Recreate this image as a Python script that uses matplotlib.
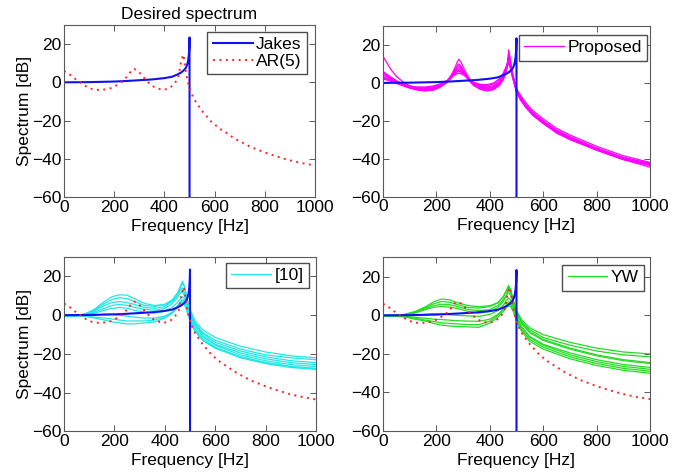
import matplotlib
matplotlib.use("Agg")
import matplotlib.pyplot as plt

plt.rcParams['font.family'] = ['Liberation Sans', 'DejaVu Sans']
plt.rcParams['font.size'] = 12.5

# Jakes (desired) spectrum, dB
jakes_f = [0, 100, 200, 250, 300, 350, 400, 430, 450, 465, 475, 485, 490, 494, 497, 499, 500, 500]
jakes_db = [0, 0.1, 0.4, 0.7, 1.1, 1.5, 2.2, 2.9, 4.0, 5.0, 6.0, 7.5, 9.0, 11, 14, 18, 23.5, -100]

# AR(5) fit
ar_f = [0, 25, 50, 70, 90, 115, 140, 165, 190, 215, 235, 255, 270, 280, 295, 310, 330, 350,
        370, 395, 420, 440, 455, 465, 470, 475, 480, 486, 493, 499, 510, 520, 535, 550, 570,
        585, 605, 625, 650, 670, 695, 720, 740, 765, 790, 815, 840, 865, 890, 915, 945, 970, 1000]
ar_db = [6, 3.9, 1.2, -0.5, -2.3, -3.7, -4, -3.7, -3, -1.1, 0.7, 3.6, 6.4, 7, 5.9, 3.7, 0.7, -1.8,
         -3.1, -4, -3.1, -0.7, 2.4, 9.9, 12.5, 14.5, 11, 5, 0.3, -2.6, -6.5, -9.2, -12.2, -15, -18,
         -20.4, -22.6, -24.7, -26.7, -28.6, -30.5, -32.2, -33.6, -34.9, -36.2, -37.4, -38.5,
         -39.5, -40.5, -41.3, -42.2, -42.8, -43.5]

# Proposed estimates
prop_f = [0, 15, 30, 50, 75, 100, 130, 160, 190, 215, 240, 255, 268, 278, 284, 292, 305, 320,
          340, 365, 390, 415, 435, 450, 460, 466, 471, 476, 482, 490, 500, 515, 535, 560, 600,
          650, 700, 800, 900, 1000]
prop_1 = [14, 10.5, 7, 3.5, 0.5, -1.5, -3, -3.5, -3, -1.5, 1, 3.5, 6.2, 8.4, 9, 8, 5.5, 2.6,
          -0.2, -2, -2.6, -2, 0, 2.5, 5.5, 9, 13, 11, 6.5, 2, -3, -6.5, -10.5, -14.5, -19,
          -24, -27.5, -33.5, -38.5, -42]
prop_2 = [6, 4.5, 3, 1.2, -0.8, -2.2, -3.3, -3.8, -3.3, -1.8, 1, 4, 7.5, 11, 12.5, 11, 7, 3,
          -0.5, -2.8, -3.6, -3, -1, 2, 5.5, 9.5, 17.5, 13, 7, 2, -3.5, -7.5, -11.5, -15.5, -20,
          -25, -28.5, -34.5, -39.5, -43]
prop_3 = [5.5, 4.2, 2.8, 1, -1, -2.6, -3.8, -4.3, -3.8, -2.3, 0.3, 3, 6.3, 9, 10, 8.8, 5.5, 2,
          -1.2, -3.5, -4.3, -3.6, -1.5, 1.5, 5, 9, 15, 12, 6.5, 1.5, -4.5, -8.5, -12.5, -16.5, -21,
          -26, -29.5, -35.5, -40.5, -44.5]
prop_4 = [4.5, 3.6, 2.5, 1, -0.8, -2.2, -3.2, -3.6, -3, -1.6, 0.8, 3.2, 5.8, 7.5, 8, 7.3, 5.2, 2.4,
          -0.5, -2.5, -3.1, -2.4, -0.3, 2.5, 6, 10, 14, 11, 6, 1.5, -4, -8, -12, -16, -20.5,
          -25.5, -29, -35, -40, -43.5]
prop_5 = [4, 3.2, 2.2, 0.8, -0.8, -2, -2.8, -3.1, -2.5, -1.2, 1, 3, 5.3, 6.7, 7, 6.5, 4.7, 2.2,
          -0.2, -1.8, -2.2, -1.4, 0.5, 3.5, 7, 10, 12, 10, 5.5, 1, -4.5, -8.5, -12.5, -16.5, -21,
          -25.5, -29, -34.5, -39.5, -42.5]
prop_6 = [3, 2.5, 1.8, 0.6, -0.8, -1.8, -2.5, -2.6, -2, -0.8, 1.2, 2.8, 4.7, 5.8, 6, 5.6, 4.3, 2.2,
          0.1, -1.3, -1.5, -0.6, 1.5, 4.5, 8, 10.5, 11, 9, 5, 0.5, -5, -9, -13, -17, -21.5,
          -26.5, -30, -35.5, -40.5, -43.5]
prop_7 = [2.5, 2, 1.4, 0.3, -0.9, -1.7, -2.2, -2.2, -1.6, -0.5, 1.3, 2.7, 4.1, 4.9, 5, 4.8, 3.9, 2.2,
          0.3, -0.8, -0.9, 0, 2, 5, 8, 9.5, 10, 8, 4.5, 0.3, -4.8, -8.8, -12.8, -16.8, -21.3,
          -26, -29.5, -35, -40, -43]
prop_8 = [2, 1.5, 0.8, -0.3, -1.6, -2.8, -3.7, -4.1, -3.5, -2, 0.3, 2.4, 4.8, 6.2, 6.5, 6, 4.2, 1.4,
          -1.5, -3.3, -3.8, -3, -0.8, 2.2, 6, 10.5, 15.5, 12.5, 7, 2, -3.8, -7.8, -11.8, -15.8, -20.3,
          -25, -28.5, -34.5, -39.5, -42.5]

# [10] and YW estimates share one frequency grid
est_f = [0, 40, 80, 120, 160, 190, 220, 250, 280, 320, 360, 400, 430, 450, 462, 470, 478,
         488, 500, 520, 550, 600, 700, 800, 900, 1000]
ref10_1 = [-0.5, -0.3, 0.5, 3, 7, 9.5, 10.5, 10.3, 8.5, 6, 5, 5.5, 7.5, 10.5, 14, 16.5, 14.5, 9, 3, -3, -7.5, -11.5, -16, -19, -21, -22]
ref10_2 = [-0.5, -0.5, 0.3, 2.5, 6, 8, 9, 8.5, 7, 5, 4.5, 5.5, 8, 11.5, 15, 17.5, 15, 8.5, 2, -4, -9, -13, -17.5, -20.5, -22, -23]
ref10_3 = [0, 0, 0.5, 2, 5, 6.5, 7, 6.5, 5.5, 4, 3.5, 4.5, 7, 10, 13, 14, 11.5, 6.5, 1, -4.5, -9.5, -14, -18.5, -21.5, -23.5, -24.5]
ref10_4 = [0, 0, 0.3, 1.5, 3.5, 5, 5.5, 5, 4, 3, 2.5, 3.5, 6, 9, 11.5, 12, 10, 5.5, 0, -5.5, -10.5, -15, -19.5, -22.5, -24.5, -25.5]
ref10_5 = [-0.5, -0.3, 0, 1, 2.5, 3.5, 4, 3.5, 2.5, 1.5, 1, 2, 4, 6.5, 8.5, 9.5, 8.5, 5, 0, -5.5, -11, -15.5, -20.5, -23.5, -25.5, -26.5]
ref10_6 = [0, 0, 0, 0, 0.5, 0.5, 0, -0.5, -1, -1.5, -1.5, -0.5, 1.5, 4, 6.5, 7.5, 7, 4, -1, -7, -12, -16.5, -21.5, -24.5, -26.5, -27.5]
ref10_7 = [-0.5, -0.5, -0.5, -1, -1.5, -2, -2.5, -3, -3, -3, -2.5, -1, 1.5, 4.5, 7, 8, 7, 3.5, -2, -8, -13, -17, -22, -25, -27, -28]
ref10_8 = [0, -0.3, -0.5, -1.5, -2.5, -3.5, -4, -4.5, -4.5, -4, -3.5, -1.5, 1, 4, 6, 6.5, 5.5, 2, -3, -8.5, -13, -17, -21.5, -24.5, -26.5, -27.5]

yw_1 = [-0.5, -0.3, 0.5, 2, 4.5, 7, 8.5, 8, 6.5, 5, 4.5, 5, 6.5, 9.5, 13, 15.5, 13.5, 8, 2.5, -2.5, -6.5, -10, -14, -17, -19, -20]
yw_2 = [-0.5, -0.5, 0.3, 1.5, 4, 6, 7.2, 6.8, 5.5, 4, 3.8, 4.5, 6.5, 9.5, 12.5, 14, 12, 7, 1.5, -3.5, -7.5, -11.5, -15.5, -18.5, -20.5, -21.5]
yw_3 = [0, 0, 0.3, 1.5, 3.5, 5, 5.8, 5.5, 4.5, 3, 2.4, 3, 5, 8, 10.5, 12, 10.5, 6.5, 1, -4.5, -9, -13, -17.5, -21, -23.5, -25]
yw_4 = [0, 0, 0.2, 1.2, 3, 4.2, 4.6, 4.3, 3.5, 2, 1.2, 2, 4, 7, 10, 14.5, 12.5, 7, 2, -3.5, -8.5, -12.5, -17, -20.5, -23, -24.5]
yw_5 = [-0.5, -0.5, -0.3, 0, 0.5, 0.8, 0.7, 0.3, 0, -0.3, -0.5, 0.5, 2.5, 5, 7.5, 9, 8, 4.5, -0.5, -6, -11, -15, -19.5, -23, -25.5, -27]
yw_6 = [0, -0.3, -0.5, -1, -1.5, -2, -2.2, -2.5, -2.8, -3, -3.1, -2, 0.5, 3, 5.5, 7, 6.5, 4, -1, -6.5, -11.5, -15.5, -20.5, -24, -26.5, -28]
yw_7 = [-0.5, -0.5, -0.7, -1.5, -2.5, -3.2, -3.9, -4.2, -4.5, -4.8, -4.8, -3, 0, 3, 5, 6, 5.5, 3, -2, -7.5, -12.5, -16.5, -21.5, -25, -27.5, -29]
yw_8 = [0, -0.3, -0.8, -2, -3, -4.2, -5.1, -5.5, -5.8, -6, -6.2, -4, -1, 2, 4, 5, 4.5, 2, -3, -8.5, -13.5, -17.5, -22.5, -26, -28.5, -30]

prop_curves = [prop_1, prop_2, prop_3, prop_4, prop_5, prop_6, prop_7, prop_8]
ref10_curves = [ref10_1, ref10_2, ref10_3, ref10_4, ref10_5, ref10_6, ref10_7, ref10_8]
yw_curves = [yw_1, yw_2, yw_3, yw_4, yw_5, yw_6, yw_7, yw_8]

BLUE = '#1010f0'
RED = '#ff2020'
dotted = (0, (1, 2.3))

fig = plt.figure(figsize=(6.84, 4.75), dpi=100)
ax1 = fig.add_axes([0.0936, 0.5853, 0.3670, 0.3621])
ax2 = fig.add_axes([0.5599, 0.5863, 0.3904, 0.3589])
ax3 = fig.add_axes([0.0936, 0.0916, 0.3684, 0.3674])
ax4 = fig.add_axes([0.5599, 0.0926, 0.3904, 0.3653])

leg_kw = dict(loc='upper right', fancybox=False, framealpha=1, edgecolor='0.3',
              handlelength=2.3, handletextpad=0.2, borderpad=0.3, labelspacing=0.1,
              borderaxespad=0, fontsize=12.5)

def style(ax, ylabel=True):
    ax.set_xlim(0, 1000)
    ax.set_ylim(-60, 30)
    ax.set_xticks([0, 200, 400, 600, 800, 1000])
    ax.set_yticks([-60, -40, -20, 0, 20])
    ax.set_yticklabels(['\u221260', '\u221240', '\u221220', '0', '20'])
    ax.tick_params(direction='in', top=True, right=True, length=4, width=0.7,
                   color='0.35', labelsize=12.5, pad=2)
    for s in ax.spines.values():
        s.set_color('0.35')
        s.set_linewidth(0.8)
    ax.set_xlabel('Frequency [Hz]', labelpad=3)
    if ylabel:
        ax.set_ylabel('Spectrum [dB]', labelpad=0)

# top left: desired spectrum
ax1.plot(jakes_f, jakes_db, color=BLUE, lw=1.5, label='Jakes')
ax1.plot(ar_f, ar_db, color=RED, lw=1.4, ls=dotted, label='AR(5)')
ax1.set_title('Desired spectrum', fontsize=12.5, pad=4)
style(ax1)
ax1.legend(bbox_to_anchor=(0.967, 0.962), **leg_kw)

# top right: proposed
for i, c in enumerate(prop_curves):
    ax2.plot(prop_f, c, color='#ff00ff', lw=0.9, label='Proposed' if i == 0 else None)
ax2.plot(jakes_f, jakes_db, color=BLUE, lw=1.5)
style(ax2, ylabel=False)
ax2.legend(bbox_to_anchor=(0.989, 0.947), **leg_kw)

# bottom left: [10]
for i, c in enumerate(ref10_curves):
    ax3.plot(est_f, c, color='#22e6e6', lw=0.9, label='[10]' if i == 0 else None)
ax3.plot(jakes_f, jakes_db, color=BLUE, lw=1.5)
ax3.plot(ar_f, ar_db, color=RED, lw=1.4, ls=dotted)
style(ax3)
ax3.legend(bbox_to_anchor=(0.972, 0.966), **leg_kw)

# bottom right: YW
for i, c in enumerate(yw_curves):
    ax4.plot(est_f, c, color='#22dd22', lw=0.9, label='YW' if i == 0 else None)
ax4.plot(jakes_f, jakes_db, color=BLUE, lw=1.5)
ax4.plot(ar_f, ar_db, color=RED, lw=1.4, ls=dotted)
style(ax4, ylabel=False)
ax4.legend(bbox_to_anchor=(0.978, 0.957), **leg_kw)

fig.savefig('out.png', dpi=100)
